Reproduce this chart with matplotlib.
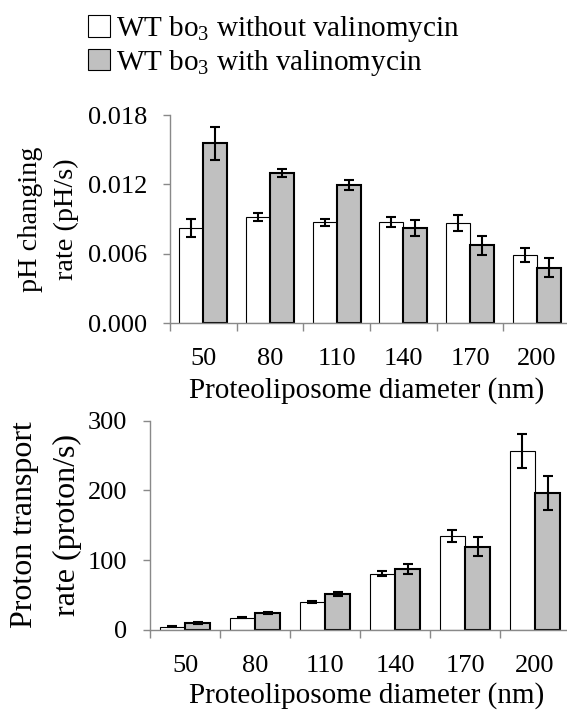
import numpy as np
import matplotlib
matplotlib.use("Agg")
import matplotlib.pyplot as plt
from matplotlib.patches import Patch

plt.rcParams['font.family'] = ['Liberation Serif', 'DejaVu Serif']
plt.rcParams['mathtext.fontset'] = 'custom'
plt.rcParams['mathtext.rm'] = 'Liberation Serif'
plt.rcParams['mathtext.it'] = 'Liberation Serif:italic'

categories = ["50", "80", "110", "140", "170", "200"]
series_labels = [r"WT bo$_\mathrm{3}$ without valinomycin",
                 r"WT bo$_\mathrm{3}$ with valinomycin"]

ph_without = [0.00823, 0.00917, 0.00874, 0.00874, 0.00866, 0.00594]
ph_without_err = [0.00076, 0.00037, 0.00030, 0.00041, 0.00066, 0.00060]
ph_with = [0.01554, 0.01300, 0.01194, 0.00823, 0.00674, 0.00480]
ph_with_err = [0.00140, 0.00037, 0.00044, 0.00066, 0.00080, 0.00084]

pr_without = [4.3, 17.2, 39.7, 80.4, 134.9, 256.9]
pr_without_err = [0.8, 0.9, 1.5, 3.8, 8.6, 24.6]
pr_with = [9.6, 23.9, 51.2, 87.1, 119.1, 196.2]
pr_with_err = [1.0, 1.0, 2.5, 7.7, 14.0, 24.0]

ph_yticks = [0.0, 0.006, 0.012, 0.018]
ph_yticklabels = ["0.000", "0.006", "0.012", "0.018"]
pr_yticks = [0, 100, 200, 300]

FS = 19      # tick labels
FS_X = 21    # x axis titles
FS_LEG = 21  # legend
FS_Y1 = 20.3 # top y title
FS_Y2 = 23   # bottom y title
SPINE = '#898989'
GRAY = '#C0C0C0'

W, H = 567, 710
fig = plt.figure(figsize=(W / 100, H / 100), dpi=100)


def px_axes(left, right, top, bottom):
    return fig.add_axes([left / W, 1 - bottom / H, (right - left) / W, (bottom - top) / H])


def draw(ax, a, a_err, b, b_err, ylim, yticks, yticklabels):
    x = np.arange(len(categories))
    w = 0.36
    ax.bar(x - w / 2, a, w, color='white', edgecolor='black', linewidth=0.8, zorder=2)
    ax.bar(x + w / 2, b, w, color=GRAY, edgecolor='black', linewidth=1.5, zorder=2)
    ax.errorbar(x - w / 2, a, yerr=a_err, fmt='none', ecolor='black', elinewidth=1.5,
                capsize=3.4, capthick=1.5, zorder=3)
    ax.errorbar(x + w / 2, b, yerr=b_err, fmt='none', ecolor='black', elinewidth=1.5,
                capsize=3.4, capthick=1.5, zorder=3)
    ax.set_xlim(-0.5, len(categories) - 0.5)
    ax.set_ylim(*ylim)
    for s in ['top', 'right']:
        ax.spines[s].set_visible(False)
    for s in ['left', 'bottom']:
        ax.spines[s].set_color(SPINE)
        ax.spines[s].set_linewidth(1.0)
    ax.set_yticks(yticks)
    ax.set_yticklabels(yticklabels, fontsize=FS)
    ax.tick_params(axis='y', direction='out', length=5, width=1.0, color=SPINE, pad=11.5)
    ax.set_xticks(x)
    ax.set_xticklabels(categories, fontsize=FS)
    ax.tick_params(axis='x', which='major', length=0, pad=18)
    ax.set_xticks(np.arange(len(categories) + 1) - 0.5, minor=True)
    ax.tick_params(axis='x', which='minor', direction='out', length=6, width=1.0, color=SPINE)


ax1 = px_axes(170, 570, 115, 323.3)
draw(ax1, ph_without, ph_without_err, ph_with, ph_with_err, (0, 0.018), ph_yticks, ph_yticklabels)
ax2 = px_axes(150, 570, 420.7, 629.7)
draw(ax2, pr_without, pr_without_err, pr_with, pr_with_err, (0, 300), pr_yticks,
     [str(v) for v in pr_yticks])

# x labels
fig.text(366.5 / W, 1 - 397.3 / H, "Proteoliposome diameter (nm)", fontsize=FS_X,
         ha='center', va='baseline')
fig.text(366.5 / W, 1 - 702.3 / H, "Proteoliposome diameter (nm)", fontsize=FS_X,
         ha='center', va='baseline')

# y labels
yc1 = 1 - 219 / H
fig.text(31 / W, yc1, "pH changing", fontsize=FS_Y1, rotation=90, ha='center', va='center')
fig.text(66 / W, yc1, "rate (pH/s)", fontsize=FS_Y1, rotation=90, ha='center', va='center')
yc2 = 1 - 525 / H
fig.text(25 / W, yc2, "Proton transport", fontsize=FS_Y2, rotation=90, ha='center', va='center')
fig.text(67 / W, yc2, "rate (proton/s)", fontsize=FS_Y2, rotation=90, ha='center', va='center')

handles = [Patch(facecolor='white', edgecolor='black', linewidth=0.8),
           Patch(facecolor=GRAY, edgecolor='black', linewidth=0.8)]
fig.legend(handles, series_labels, loc='upper left', bbox_to_anchor=(88 / W, 1 - 14 / H),
           frameon=False, fontsize=FS_LEG, handlelength=0.75, handleheight=0.75,
           handletextpad=0.2, labelspacing=0.12, borderpad=0, borderaxespad=0)

fig.savefig("out.png", dpi=100)
